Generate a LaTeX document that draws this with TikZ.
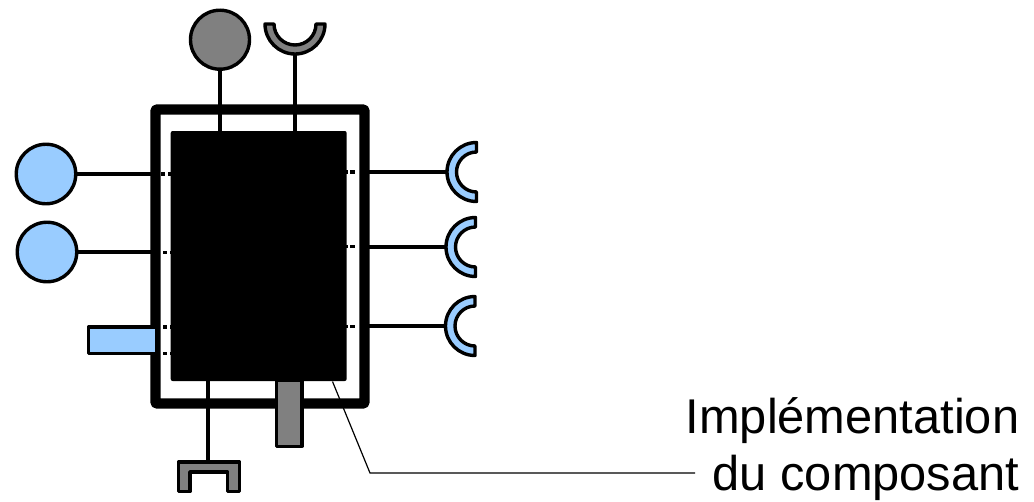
\documentclass[tikz,border=0pt]{standalone}
\usepackage{fontspec}
\setmainfont{Liberation Sans}
\definecolor{lblue}{HTML}{99CCFF}
\definecolor{mgray}{HTML}{808080}
\tikzset{
  wire/.style={draw=black,line width=3.5pt},
  dot wire/.style={draw=black,line width=3.5pt,dash pattern=on 3.8pt off 3.4pt},
  part/.style={draw=black,line width=3.4pt,line join=round},
  ballblue/.style={circle,draw=black,line width=3.4pt,fill=lblue,minimum size=59.5pt,inner sep=0pt},
  ballgray/.style={circle,draw=black,line width=3.4pt,fill=mgray,minimum size=59pt,inner sep=0pt},
  label/.style={font=\fontsize{48.8}{57.5}\selectfont,align=right,inner sep=0pt}
}
\begin{document}
\begin{tikzpicture}[x=1pt,y=-1pt]
\useasboundingbox (0,0) rectangle (1034,501);
% named anchors
\node[ballgray] (g1) at (220,39.7) {};
\node[ballblue] (b1) at (46,174) {};
\node[ballblue] (b2) at (47,252) {};
\coordinate (sock1) at (295,55);
\coordinate (s1) at (446,172);
\coordinate (s2) at (445,247);
\coordinate (s3) at (444.5,326);
% wires
\draw[wire] (g1.south) -- (220,132);
\draw[wire] (sock1) -- (295,132);
\draw[wire] (b1.east) -- (160,174);
\draw[wire] (b2.east) -- (160,252);
\draw[wire] (s1) -- (360,172);
\draw[wire] (s2) -- (360,247);
\draw[wire] (s3) -- (360,326);
\draw[wire] (208,380) -- (208,462);
\draw[dot wire] (161,174) -- (171,174);
\draw[dot wire] (163.2,252.5) -- (171,252.5);
\draw[dot wire] (163.2,327) -- (171,327);
\draw[dot wire] (163.2,353.7) -- (171,353.7);
\draw[wire,dash pattern=on 5pt off 5pt] (350,172) -- (360,172);
\draw[wire,dash pattern=on 5pt off 5pt] (350,246.5) -- (360,246.5);
\draw[wire,dash pattern=on 5pt off 5pt] (350,326.5) -- (360,326.5);
\draw[wire] (346,172) -- (348,172);
\draw[wire] (346,246.5) -- (348,246.5);
\draw[wire] (346,326.5) -- (348,326.5);
% outer box
\draw[line width=10.4pt,rounded corners=1pt,line join=round] (155.5,109.5) rectangle (364.5,403.5);
% inner box
\node[draw=none,fill=black,rounded corners=2pt,minimum width=176pt,minimum height=250pt,inner sep=0pt] (impl) at (258.7,256) {};
% blue connector rectangle
\node[part,fill=lblue,minimum width=68pt,minimum height=26.6pt,inner sep=0pt,anchor=west] (port) at (86.7,340.3) {};
% gray rectangle
\node[part,fill=mgray,minimum width=25.5pt,minimum height=66pt,inner sep=0pt,anchor=north] (tab) at (289.2,378.5) {};
% gray socket
\filldraw[part,fill=mgray] (265,24) arc[start angle=180,end angle=0,radius=30] -- (316,24) arc[start angle=0,end angle=180,radius=21] -- cycle;
% blue sockets
\foreach \cx/\cy in {476.5/172,475.5/247,475/326}{
  \filldraw[part,fill=lblue] (\cx,\cy+20) arc[start angle=90,end angle=270,radius=20] -- (\cx,\cy-29.5) arc[start angle=270,end angle=90,radius=29.5] -- cycle;
}
% fork
\filldraw[part,fill=mgray] (178.5,462) -- (239.5,462) -- (239.5,491.5) -- (227.5,491.5) -- (227.5,472) -- (190,472) -- (190,491.5) -- (178.5,491.5) -- cycle;
% label and leader
\node[label,anchor=base east] (txt) at (1019.5,490.5) {Implémentation\\du composant};
\coordinate (lead0) at (332.5,381.5);
\coordinate (lead1) at (370,473);
\draw[line width=1.2pt] (lead0) -- (lead1) -- (695,473);
\end{tikzpicture}
\end{document}
